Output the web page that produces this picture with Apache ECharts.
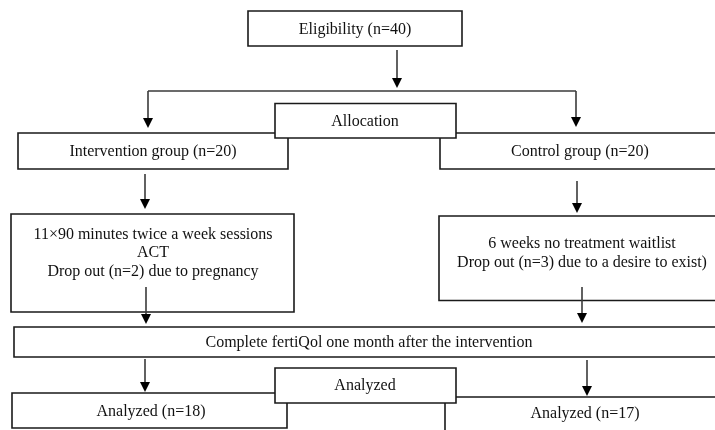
<!DOCTYPE html>
<html>
<head>
<meta charset="utf-8">
<script src="https://cdn.jsdelivr.net/npm/echarts@6/dist/echarts.min.js"></script>
<style>html,body{margin:0;padding:0;background:#fff}#c{width:715px;height:430px}</style>
</head>
<body>
<div id="c"></div>
<script>
// Flowchart texts (the chart's content)
const boxTexts = [
  'Eligibility (n=40)',
  'Intervention group (n=20)',
  'Control group (n=20)',
  'Allocation',
  '11×90 minutes twice a week sessions\nACT\nDrop out (n=2) due to pregnancy',
  '6 weeks no treatment waitlist\nDrop out (n=3) due to a desire to exist)',
  'Complete fertiQol one month after the intervention',
  'Analyzed (n=18)',
  'Analyzed (n=17)',
  'Analyzed'
];

// Layout: [x0, y0, x1, y1, textCenterX, firstLineCenterY] in page units
const boxLayout = [
  [248, 11, 462, 46, 355, 29.5],
  [18, 133, 288, 169, 153, 152],
  [440, 133, 718, 169, 580, 152],
  [275, 103.5, 456, 138, 365, 122],
  [11, 214, 294, 312, 153, 234.5],
  [439, 216, 718, 300.5, 582, 244],
  [14, 327, 718, 357, 369, 343],
  [12, 393, 287, 428, 151, 412],
  [445, 397, 718, 440, 585, 414],
  [275, 368, 456, 403, 365, 386]
];

// Connectors: [x0, y0, x1, y1, arrowHead(1/0)]
const connectors = [
  [397, 50, 397, 88, 1],
  [148, 91, 576, 91, 0],
  [148, 91, 148, 128, 1],
  [576, 91, 576, 127, 1],
  [145, 174, 145, 209, 1],
  [577, 181, 577, 213, 1],
  [146, 287, 146, 324, 1],
  [582, 287, 582, 323, 1],
  [145, 359, 145, 392, 1],
  [587, 360, 587, 396, 1]
];

const chart = echarts.init(document.getElementById('c'), null, {renderer: 'canvas'});
const FONT = '16px "Liberation Serif", "Times New Roman", serif';
const LH = 18.5;

const boxData = boxLayout.map((b, i) => [b[0], b[1], b[2], b[3], i]);
const connData = connectors.map((c, i) => [c[0], c[1], c[2], c[3], i]);

chart.setOption({
  animation: false,
  backgroundColor: '#fff',
  grid: {left: 0, right: 0, top: 0, bottom: 0},
  xAxis: {type: 'value', min: 0, max: 715, show: false},
  yAxis: {type: 'value', min: 0, max: 430, inverse: true, show: false},
  series: [
    {
      type: 'custom',
      coordinateSystem: 'cartesian2d',
      clip: true,
      z: 2,
      data: boxData,
      encode: {x: [0, 2], y: [1, 3]},
      renderItem: function (params, api) {
        const i = api.value(4);
        const b = boxLayout[i];
        const p0 = api.coord([api.value(0), api.value(1)]);
        const p1 = api.coord([api.value(2), api.value(3)]);
        const tc = api.coord([b[4], b[5]]);
        return {
          type: 'group',
          children: [
            {
              type: 'rect',
              shape: {x: p0[0], y: p0[1], width: p1[0] - p0[0], height: p1[1] - p0[1]},
              style: {fill: '#fff', stroke: '#1a1a1a', lineWidth: 1.6}
            },
            {
              type: 'text',
              x: tc[0],
              y: tc[1] - LH / 2,
              style: {
                text: boxTexts[i],
                font: FONT,
                fill: '#111',
                align: 'center',
                verticalAlign: 'top',
                lineHeight: LH
              }
            }
          ]
        };
      }
    },
    {
      type: 'custom',
      coordinateSystem: 'cartesian2d',
      clip: true,
      z: 3,
      data: connData,
      encode: {x: [0, 2], y: [1, 3]},
      renderItem: function (params, api) {
        const c = connectors[api.value(4)];
        const a = api.coord([api.value(0), api.value(1)]);
        const b = api.coord([api.value(2), api.value(3)]);
        const children = [];
        const headH = c[4] ? 10 : 0;
        const endY = c[4] ? b[1] - headH + 1 : b[1];
        children.push({
          type: 'line',
          shape: {x1: a[0], y1: a[1], x2: b[0], y2: endY},
          style: {stroke: '#3a3a3a', lineWidth: 1.6}
        });
        if (c[4]) {
          children.push({
            type: 'polygon',
            shape: {points: [[b[0] - 5, b[1] - headH], [b[0] + 5, b[1] - headH], [b[0], b[1]]]},
            style: {fill: '#000'}
          });
        }
        return {type: 'group', children: children};
      }
    }
  ]
});
</script>
</body>
</html>
